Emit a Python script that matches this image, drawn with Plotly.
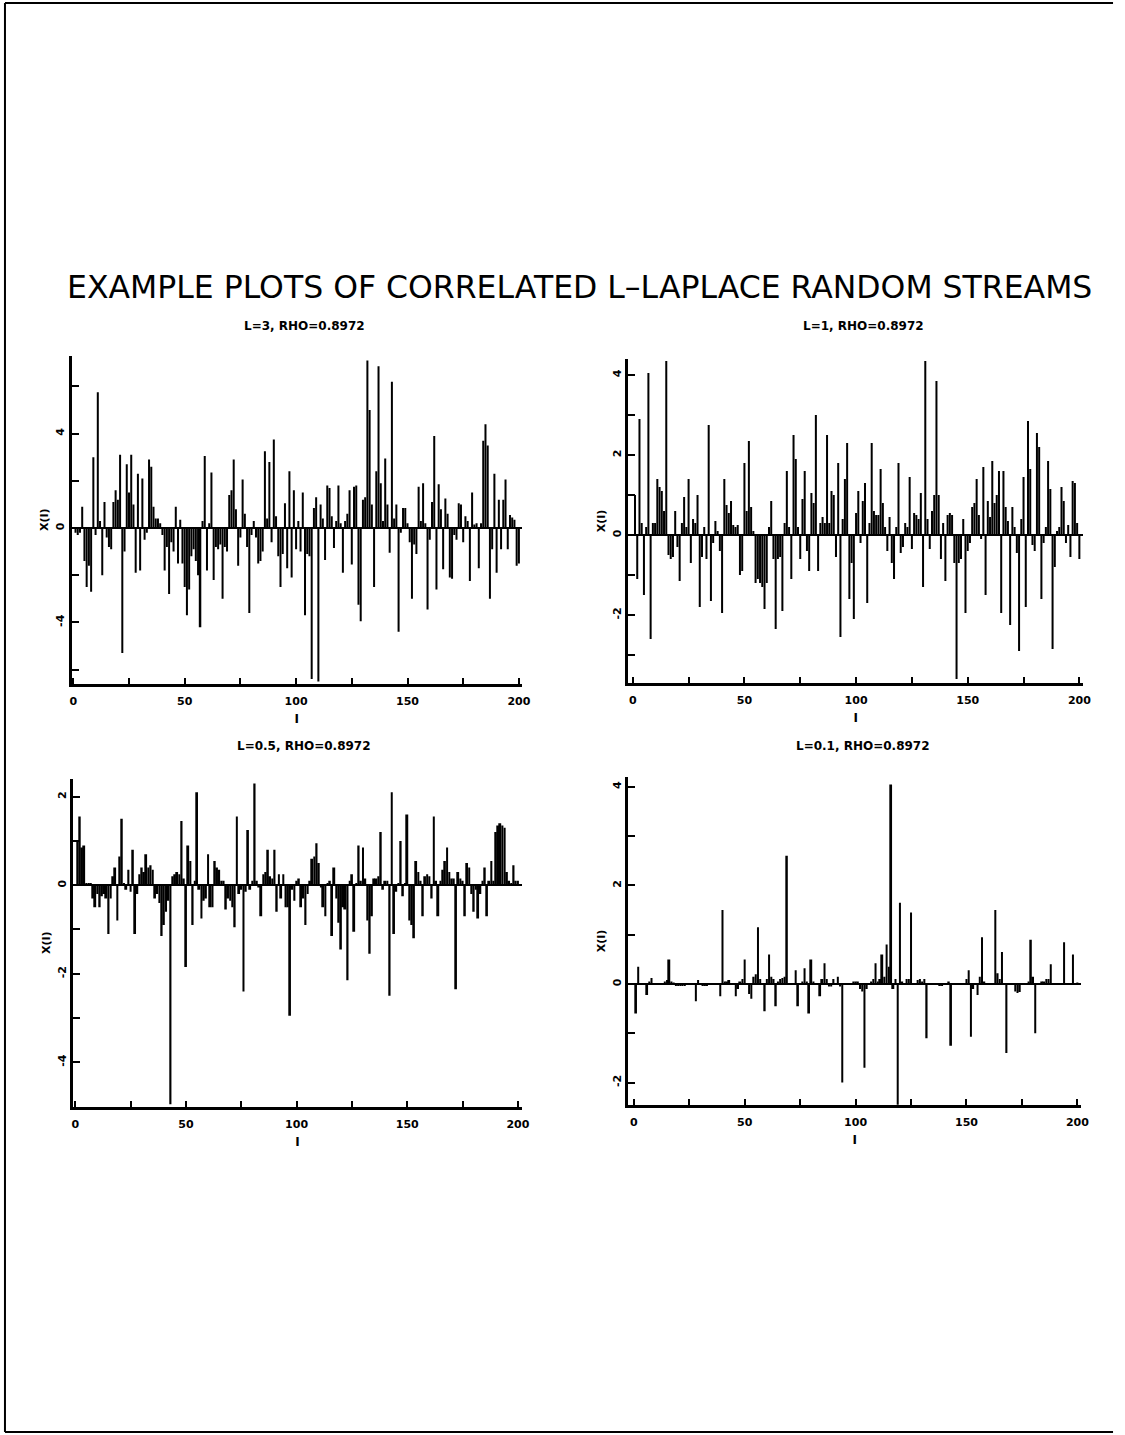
import plotly.graph_objects as go

W, H = 1125, 1435

# ---------------- data ----------------
I = list(range(1, 201))

x_l3 = [-0.2, -0.3, -0.2, 0.9, -1.4, -2.5, -1.6, -2.7, 3.0, -0.3,
        5.75, 0.3, -2.0, 1.1, -0.4, -0.8, -0.9, 1.1, 1.6, 1.2,
        3.1, -5.3, -1.0, 2.7, 1.5, 3.1, 1.0, -1.9, 2.3, -1.8,
        2.1, -0.5, -0.2, 2.9, 2.6, 0.9, 0.4, 0.4, 0.2, -0.3,
        -1.8, -0.8, -2.8, -0.6, -1.0, 0.9, -1.5, 0.35, -1.5, -2.5,
        -3.7, -2.6, -1.2, -0.9, -1.4, -2.0, -4.2, 0.3, 3.05, -1.8,
        0.2, 2.35, -2.2, -0.8, -0.9, -0.7, -3.0, -0.8, -1.0, 1.4,
        1.6, 2.9, 0.8, -1.6, -0.4, 2.05, 0.6, -0.8, -3.6, -0.3,
        0.3, -0.4, -1.5, -1.4, -1.0, 3.25, 0.4, 2.8, -0.6, 3.75,
        0.5, -1.2, -2.5, -1.1, 1.05, -1.7, 2.4, -2.1, 1.6, -0.9,
        0.3, -1.0, 1.5, -3.7, -1.1, -1.2, -6.4, 0.85, 1.3, -6.5,
        1.0, 0.4, -1.35, 1.8, 1.7, 0.5, -0.85, 0.3, 1.8, 0.2,
        -1.9, 0.3, 0.6, 1.6, -1.55, 1.75, 1.8, -3.25, -3.95, 1.2,
        1.3, 7.1, 5.0, 1.0, -2.5, 2.4, 6.85, 1.9, 0.3, 2.95,
        1.0, -1.05, 6.2, 0.4, 1.0, -4.4, -0.2, 0.85, 0.85, 0.2,
        -0.6, -3.0, -0.7, -1.1, 1.75, 0.3, 1.9, 0.2, -3.45, -0.5,
        1.1, 3.9, -2.6, 1.85, 0.8, -1.75, 1.25, 0.6, -2.1, -2.15,
        -0.3, -0.5, 1.05, 1.0, -0.6, 0.5, 0.3, -2.25, 1.5, 0.15,
        0.2, -1.7, 0.2, 3.7, 4.4, 3.5, -3.0, -0.9, 2.3, -1.9,
        1.2, -0.9, 1.2, 2.05, -0.9, 0.55, 0.45, 0.35, -1.6, -1.5]

x_l1 = [1.0, -1.1, 2.9, 0.3, -1.5, 0.2, 4.05, -2.6, 0.3, 0.3,
        1.4, 1.2, 1.1, 0.6, 4.35, -0.5, -0.6, -0.55, 0.6, -0.3,
        -1.15, 0.3, 0.95, 0.2, 1.4, -0.7, 0.4, 0.3, 1.0, -1.8,
        -0.55, 0.2, -0.6, 2.75, -1.65, -0.2, 0.35, 0.1, -0.4, -1.95,
        1.4, 0.75, 0.55, 0.85, 0.25, 0.2, 0.25, -1.0, -0.9, 1.8,
        0.6, 2.35, 0.7, 0.1, -1.2, -1.1, -1.2, -1.3, -1.85, -1.2,
        0.2, 0.85, -0.6, -2.35, -0.6, -0.55, -1.9, 0.3, 1.6, 0.2,
        -1.1, 2.5, 1.9, 0.2, -0.6, 0.9, 1.6, -0.4, -0.9, 1.05,
        0.8, 3.0, -0.9, 0.3, 0.45, 0.3, 2.5, 0.3, 1.1, 1.0,
        -0.55, 1.8, -2.55, 0.4, 1.4, 2.3, -1.6, -0.7, -2.1, 0.55,
        1.1, -0.2, 0.85, 1.3, -1.7, 0.3, 2.3, 0.6, 0.5, 0.5,
        1.65, 0.8, 0.2, -0.4, 0.45, -0.7, -1.1, 0.2, 1.8, -0.45,
        -0.3, 0.3, 0.2, 1.45, -0.35, 0.55, 0.5, 0.4, 1.05, -1.3,
        4.35, 0.4, -0.35, 0.6, 1.0, 3.85, 1.0, -0.6, 0.3, -1.15,
        0.5, 0.55, 0.5, -0.7, -3.6, -0.7, -0.6, 0.4, -1.95, -0.4,
        -0.2, 0.7, 0.8, 1.4, 0.5, -0.1, 1.7, -1.5, 0.85, 0.45,
        1.85, 0.8, 1.0, 1.6, -1.95, 1.6, 0.7, 0.35, -2.25, 0.7,
        0.2, -0.45, -2.9, 0.4, 1.45, -1.8, 2.85, 1.65, -0.25, -0.4,
        2.55, 2.2, -1.6, -0.2, 0.2, 1.85, 1.15, -2.85, -0.8, 0.1,
        0.2, 1.2, 0.85, -0.2, 0.25, -0.55, 1.35, 1.3, 0.3, -0.6]

x_l05 = [1.0, 1.55, 0.85, 0.9, 0.05, 0.05, 0.05, -0.3, -0.5, -0.2,
         -0.5, -0.25, -0.2, -0.3, -1.1, -0.3, 0.2, 0.4, -0.8, 0.65,
         1.5, 0.05, -0.1, 0.35, -0.15, 0.8, -1.1, -0.2, 0.25, 0.4,
         0.3, 0.7, 0.4, 0.45, 0.35, -0.3, -0.2, -0.4, -1.15, -0.9,
         -0.6, -0.35, -4.95, 0.2, 0.25, 0.3, 0.25, 1.45, 0.15, -1.85,
         0.9, 0.55, -0.9, 0.1, 2.1, -0.1, -0.75, -0.35, -0.3, 0.7,
         -0.5, -0.5, 0.55, 0.4, 0.35, 0.1, 0.1, -0.55, -0.3, -0.35,
         -0.5, -0.95, 1.55, -0.2, -0.1, -2.4, -0.15, 1.25, -0.1, 0.1,
         2.3, 0.1, -0.05, -0.7, 0.25, 0.3, 0.8, 0.2, 0.15, 0.8,
         -0.6, 0.25, -0.3, 0.25, -0.5, -0.5, -2.95, -0.1, -0.35, 0.1,
         0.15, -0.5, -0.3, -0.9, -0.2, 0.1, 0.6, 0.65, 0.95, 0.5,
         -0.05, -0.5, -0.7, 0.05, 0.1, -1.15, 0.4, -0.3, -0.85, -1.45,
         -0.5, -0.55, -2.15, 0.1, 0.25, -1.05, 0.05, 0.9, 0.1, 0.85,
         0.15, -0.8, -1.55, -0.7, 0.15, 0.15, 0.2, 1.2, -0.1, 0.1,
         0.1, -2.5, 2.1, -1.1, -0.15, 0.05, 1.0, -0.25, 0.05, 1.6,
         -0.8, -0.9, -1.2, 0.55, 0.3, 0.1, -0.7, 0.2, 0.25, 0.2,
         -0.3, 1.55, 0.1, -0.7, 0.1, 0.35, 0.55, 0.85, 0.3, 0.15,
         0.15, -2.35, 0.3, 0.15, 0.1, -0.7, 0.5, 0.4, -0.2, -0.6,
         -0.1, -0.75, -0.2, 0.1, 0.4, -0.7, 0.1, 0.55, 0.1, 1.2,
         1.35, 1.4, 1.35, 1.3, 0.3, 0.1, 0.05, 0.45, 0.1, 0.1]

x_l01 = [-0.6, 0.35, 0.0, 0.0, 0.0, -0.22, 0.05, 0.12, 0.0, 0.0,
         0.0, 0.0, 0.0, 0.05, 0.08, 0.5, 0.05, 0.03, -0.03, -0.04,
         -0.03, -0.04, -0.02, 0.0, 0.02, 0.0, 0.0, -0.35, 0.08, 0.0,
         -0.02, -0.03, -0.04, 0.0, 0.0, 0.0, 0.0, 0.0, -0.25, 1.5,
         0.05, 0.05, 0.08, 0.0, 0.0, -0.25, -0.1, 0.05, 0.1, 0.5,
         0.0, -0.2, -0.3, 0.15, 0.2, 1.15, 0.1, 0.0, -0.55, 0.1,
         0.6, 0.15, 0.1, -0.45, 0.05, 0.1, 0.12, 0.15, 2.6, 0.0,
         0.0, 0.0, 0.28, -0.45, 0.0, 0.05, 0.32, 0.05, -0.6, 0.5,
         0.05, 0.0, 0.0, -0.25, 0.1, 0.42, 0.1, -0.05, -0.05, 0.1,
         0.0, 0.15, -0.05, -2.0, 0.0, 0.0, 0.0, 0.0, 0.05, 0.05,
         0.05, -0.1, -0.15, -1.7, -0.1, 0.0, 0.05, 0.1, 0.42, 0.05,
         0.1, 0.6, 0.15, 0.8, 0.35, 4.05, -0.1, 0.1, -2.5, 1.65,
         0.05, 0.0, 0.1, 0.1, 1.45, 0.0, 0.0, 0.08, 0.1, 0.05,
         0.1, -1.1, 0.0, 0.0, 0.0, 0.0, 0.0, -0.03, -0.04, 0.0,
         0.0, 0.05, -1.25, 0.0, 0.0, 0.0, 0.0, 0.0, 0.0, 0.1,
         0.28, -1.07, -0.1, 0.0, -0.22, 0.15, 0.95, 0.05, 0.0, 0.0,
         0.02, 0.0, 1.5, 0.22, 0.1, 0.65, 0.0, -1.4, 0.0, 0.0,
         0.0, -0.15, -0.18, -0.16, 0.0, 0.0, 0.0, 0.05, 0.9, 0.15,
         -1.0, 0.0, 0.0, 0.05, 0.05, 0.1, 0.1, 0.4, 0.0, 0.0,
         0.0, 0.0, 0.0, 0.85, 0.0, 0.0, 0.0, 0.6, 0.0, 0.03]

panel_titles = ["L=3, RHO=0.8972", "L=1, RHO=0.8972",
                "L=0.5, RHO=0.8972", "L=0.1, RHO=0.8972"]
main_title = "EXAMPLE PLOTS OF CORRELATED L\u2013LAPLACE RANDOM STREAMS"
x_tick_vals = [0, 25, 50, 75, 100, 125, 150, 175, 200]
x_tick_text = ["0", "", "50", "", "100", "", "150", "", "200"]
y_ticks_l3 = [-6, -4, -2, 0, 2, 4, 6]
y_text_l3 = ["", "-4", "", "0", "", "4", ""]
y_ticks_l1 = [-3, -2, -1, 0, 1, 2, 3, 4]
y_text_l1 = ["", "-2", "", "0", "", "2", "", "4"]
y_ticks_l05 = [-5, -4, -3, -2, -1, 0, 1, 2]
y_text_l05 = ["", "-4", "", "-2", "", "0", "", "2"]
y_ticks_l01 = [-2, -1, 0, 1, 2, 3, 4]
y_text_l01 = ["-2", "", "0", "", "2", "", "4"]

# ---------------- layout geometry (page pixels) ----------------
def fx(px):
    return px / W

def fy(py):
    return 1 - py / H

# x0: pixel of I=0, ppu: pixels per unit, xl/xr: axis extent in pixels
panels = [
    dict(vals=x_l3, title=panel_titles[0], x0=72, ppu=2.25, xl=70.5, xr=525,
         ypx=(355.7, 683.8), yr=[-6.6, 7.3], yt=y_ticks_l3, ytt=y_text_l3, ty=326, tx=305),
    dict(vals=x_l1, title=panel_titles[1], x0=637, ppu=2.255, xl=632.5, xr=1092,
         ypx=(359, 683), yr=[-3.7, 4.4], yt=y_ticks_l1, ytt=y_text_l1, ty=326, tx=870),
    dict(vals=x_l05, title=panel_titles[2], x0=74, ppu=2.235, xl=72, xr=525,
         ypx=(779, 1106.5), yr=[-5.0, 2.4], yt=y_ticks_l05, ytt=y_text_l05, ty=746, tx=305),
    dict(vals=x_l01, title=panel_titles[3], x0=638, ppu=2.24, xl=632.5, xr=1090,
         ypx=(777, 1104.8), yr=[-2.45, 4.2], yt=y_ticks_l01, ytt=y_text_l01, ty=746, tx=870),
]

FONT = "DejaVu Sans"
fig = go.Figure()
annotations = []
layout = {}

for k, p in enumerate(panels, start=1):
    xa = "x" if k == 1 else f"x{k}"
    ya = "y" if k == 1 else f"y{k}"
    fig.add_trace(go.Bar(x=I, y=p["vals"], xaxis=xa, yaxis=ya,
                         marker=dict(color="black", line=dict(width=0)),
                         width=0.9, showlegend=False, hoverinfo="x+y"))
    xkey = "xaxis" if k == 1 else f"xaxis{k}"
    ykey = "yaxis" if k == 1 else f"yaxis{k}"
    xrange = [(p["xl"] - p["x0"]) / p["ppu"], (p["xr"] - p["x0"]) / p["ppu"]]
    layout[xkey] = dict(
        domain=[fx(p["xl"]), fx(p["xr"])], anchor=ya,
        range=xrange, showgrid=False, zeroline=False,
        showline=True, linecolor="black", linewidth=3,
        ticks="inside", ticklen=6, tickwidth=2, tickcolor="black",
        tickvals=x_tick_vals, ticktext=x_tick_text, ticklabelstandoff=5,
        tickfont=dict(family=FONT, size=11, color="black", weight="bold"),
        title=dict(text="I", standoff=8,
                   font=dict(family=FONT, size=12, color="black", weight="bold")),
        fixedrange=True)
    layout[ykey] = dict(
        domain=[fy(p["ypx"][1]), fy(p["ypx"][0])], anchor=xa,
        range=p["yr"], showgrid=False,
        zeroline=True, zerolinecolor="black", zerolinewidth=1.5,
        showline=True, linecolor="black", linewidth=3,
        ticks="inside", ticklen=7, tickwidth=2, tickcolor="black",
        tickvals=p["yt"], ticktext=p["ytt"], tickangle=-90,
        tickfont=dict(family=FONT, size=11, color="black", weight="bold"),
        title=dict(text="X(I)", standoff=4,
                   font=dict(family=FONT, size=11, color="black", weight="bold")),
        fixedrange=True)
    annotations.append(dict(
        text=p["title"], xref="paper", yref="paper",
        x=fx(p["tx"]), y=fy(p["ty"]),
        xanchor="center", yanchor="middle", showarrow=False,
        font=dict(family=FONT, size=12, color="black", weight="bold")))

annotations.append(dict(
    text=main_title, xref="paper", yref="paper", x=fx(583), y=fy(287),
    xanchor="center", yanchor="middle", showarrow=False,
    font=dict(family=FONT, size=31.5, color="black")))

shapes = [
    dict(type="line", xref="paper", yref="paper", x0=fx(3), x1=fx(3), y0=fy(3), y1=fy(1432),
         line=dict(color="black", width=2)),
    dict(type="line", xref="paper", yref="paper", x0=fx(3), x1=fx(1122), y0=fy(3), y1=fy(3),
         line=dict(color="black", width=2)),
    dict(type="line", xref="paper", yref="paper", x0=fx(3), x1=fx(1122), y0=fy(1432), y1=fy(1432),
         line=dict(color="black", width=2)),
]

fig.update_layout(
    width=W, height=H, margin=dict(l=0, r=0, t=0, b=0),
    paper_bgcolor="white", plot_bgcolor="white",
    bargap=0.1, annotations=annotations, shapes=shapes,
    font=dict(family=FONT, color="black"),
    **layout)

# remove the browser's default page margin so the figure sits at (0, 0)
fig.write_html("out.html", config={"displayModeBar": False},
               post_script="document.body.style.margin='0px';document.body.style.overflow='hidden';")
